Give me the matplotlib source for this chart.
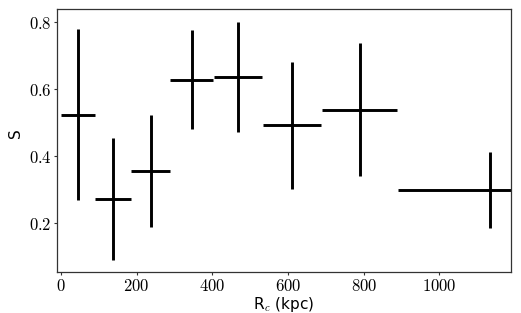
import matplotlib
matplotlib.use("Agg")
import matplotlib.pyplot as plt

plt.rcParams['mathtext.fontset'] = 'cm'
plt.rcParams['font.family'] = ['DejaVu Sans']

# Data
r_c = [45, 137, 237, 346, 468, 611, 789, 1134]
r_err = [45, 47, 52, 57, 64, 77, 100, 244]
s_val = [0.522, 0.271, 0.355, 0.628, 0.636, 0.492, 0.538, 0.298]
s_lo = [0.254, 0.183, 0.169, 0.148, 0.165, 0.192, 0.198, 0.113]
s_hi = [0.257, 0.184, 0.167, 0.149, 0.166, 0.190, 0.199, 0.115]

xticks = [0, 200, 400, 600, 800, 1000]
yticks = [0.2, 0.4, 0.6, 0.8]

fig = plt.figure(figsize=(5.21, 3.13), dpi=100)
ax = fig.add_axes([0.110, 0.132, 0.870, 0.838])

ax.errorbar(r_c, s_val, xerr=r_err, yerr=[s_lo, s_hi], fmt='none',
            ecolor='black', elinewidth=2.1, capsize=0)

ax.set_xlim(-9.5, 1188)
ax.set_ylim(0.053, 0.839)
ax.set_xticks(xticks)
ax.set_xticklabels([f"${v}$" for v in xticks])
ax.set_yticks(yticks)
ax.set_yticklabels([f"${v}$" for v in yticks])
ax.tick_params(axis='both', labelsize=12, length=2.2, width=0.8,
               color='#333333', direction='out', pad=1.8)
for sp in ax.spines.values():
    sp.set_color('#333333')
    sp.set_linewidth(0.9)

ax.set_xlabel(r"R$_c$ (kpc)", fontsize=11)
ax.xaxis.set_label_coords(0.5, -0.088)
ax.set_ylabel("S", fontsize=11)
ax.yaxis.set_label_coords(-0.076, 0.53)

fig.savefig("out.png", dpi=100)
